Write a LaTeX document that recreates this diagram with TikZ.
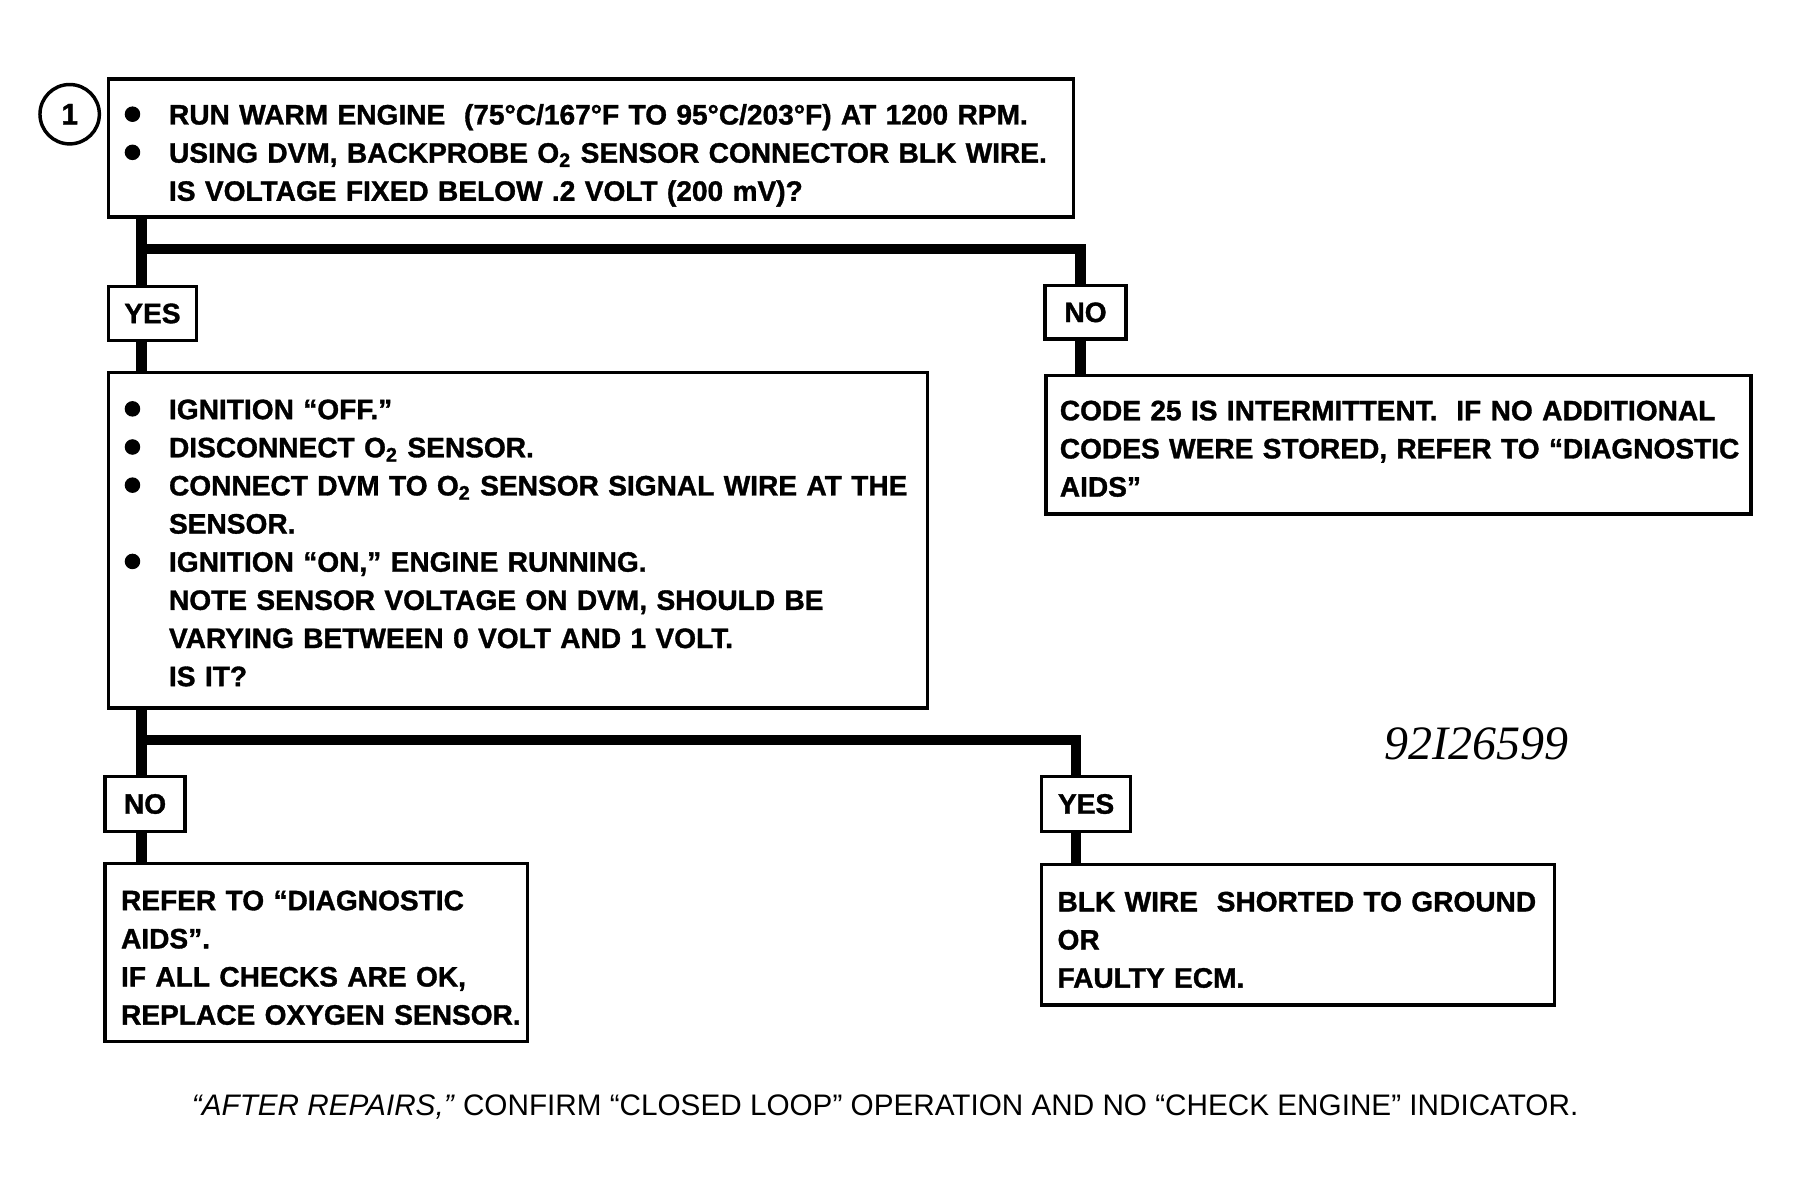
\documentclass[tikz,border=0pt]{standalone}
\usepackage{fontspec}
\setmainfont{Liberation Sans}[BoldFeatures={FakeBold=1.2}]
\newfontfamily\numfont{Liberation Serif}
\tikzset{
  box/.style={draw, line width=1.5pt, inner sep=0pt, outer sep=0pt, anchor=north west, fill=white},
  lbl/.style={box, font=\bfseries\fontsize{12.3}{14}\selectfont},
  txt/.style={anchor=base west, inner sep=0pt, outer sep=0pt, align=left, text width=480pt,
              font=\bfseries\fontsize{12.3}{16.7}\selectfont},
  conn/.style={line width=4.5pt, line join=miter},
}
\newcommand\bul{\makebox[0pt][r]{\raisebox{1.1pt}{\tikz\fill (0,0) circle (3.4pt);}\hspace{12.6pt}}}
\begin{document}
\begin{tikzpicture}[x=0.5pt, y=-0.5pt, scale=0.988, transform shape]
\useasboundingbox (0,0) rectangle (1570.85,1047.57);

% boxes
\node[box, minimum width=422.5pt, minimum height=60.5pt] (b1) at (95,69) {};
\node[lbl, minimum width=38.5pt, minimum height=23.5pt] (yes1) at (95,251) {YES};
\node[lbl, minimum width=35.5pt, minimum height=23.5pt] (no1) at (915,250) {NO};
\node[box, minimum width=358.5pt, minimum height=147pt] (b2) at (95,326) {};
\node[box, minimum width=308.5pt, minimum height=60.5pt] (b3) at (916,329) {};
\node[lbl, minimum width=35pt, minimum height=24pt] (no2) at (92,680) {NO};
\node[lbl, minimum width=39pt, minimum height=24pt] (yes2) at (912,680) {YES};
\node[box, minimum width=185pt, minimum height=78pt] (b4) at (92,756) {};
\node[box, minimum width=224.5pt, minimum height=61.5pt] (b5) at (912,757) {};

% step number
\node[draw, circle, line width=1.5pt, minimum size=26pt, inner sep=0pt,
      font=\bfseries\fontsize{13}{15}\selectfont] (c1) at (61,100) {1};

% texts
\node[txt] (t1) at (148,109) {\bul RUN WARM ENGINE\ \ (75°C/167°F TO 95°C/203°F) AT 1200 RPM.\\
\bul USING DVM, BACKPROBE O\textsubscript{2} SENSOR CONNECTOR BLK WIRE.\\
IS VOLTAGE FIXED BELOW .2 VOLT (200 mV)?};

\node[txt] (t2) at (148,367) {\bul IGNITION “OFF.”\\
\bul DISCONNECT O\textsubscript{2} SENSOR.\\
\bul CONNECT DVM TO O\textsubscript{2} SENSOR SIGNAL WIRE AT THE\\
SENSOR.\\
\bul IGNITION “ON,” ENGINE RUNNING.\\
NOTE SENSOR VOLTAGE ON DVM, SHOULD BE\\
VARYING BETWEEN 0 VOLT AND 1 VOLT.\\
IS IT?};

\node[txt] (t3) at (928,368) {CODE 25 IS INTERMITTENT.\ \ IF NO ADDITIONAL\\
CODES WERE STORED, REFER TO “DIAGNOSTIC\\
AIDS”};

\node[txt] (t4) at (106,797) {REFER TO “DIAGNOSTIC\\
AIDS”.\\
IF ALL CHECKS ARE OK,\\
REPLACE OXYGEN SENSOR.};

\node[txt] (t5) at (926,798) {BLK WIRE\ \ SHORTED TO GROUND\\
OR\\
FAULTY ECM.};

\node[font=\numfont\itshape\fontsize{21}{24}\selectfont, inner sep=0pt] (code) at (1293,651) {92I26599};

\node[anchor=base, inner sep=0pt, font=\fontsize{13}{15}\selectfont] (foot) at (775,977)
  {\textit{“AFTER REPAIRS,”} CONFIRM “CLOSED LOOP” OPERATION AND NO “CHECK ENGINE” INDICATOR.};

% connectors
\coordinate (k1) at (124,218);
\coordinate (k2) at (946,218);
\coordinate (k3) at (124,648);
\coordinate (k4) at (942,648);
\draw[conn] (b1.south -| k1) -- (yes1.north -| k1);
\draw[conn] (k1) -| (no1.north -| k2);
\draw[conn] (yes1.south -| k1) -- (b2.north -| k1);
\draw[conn] (no1.south -| k2) -- (b3.north -| k2);
\draw[conn] (b2.south -| k3) -- (no2.north -| k3);
\draw[conn] (k3) -| (yes2.north -| k4);
\draw[conn] (no2.south -| k3) -- (b4.north -| k3);
\draw[conn] (yes2.south -| k4) -- (b5.north -| k4);
\end{tikzpicture}
\end{document}
